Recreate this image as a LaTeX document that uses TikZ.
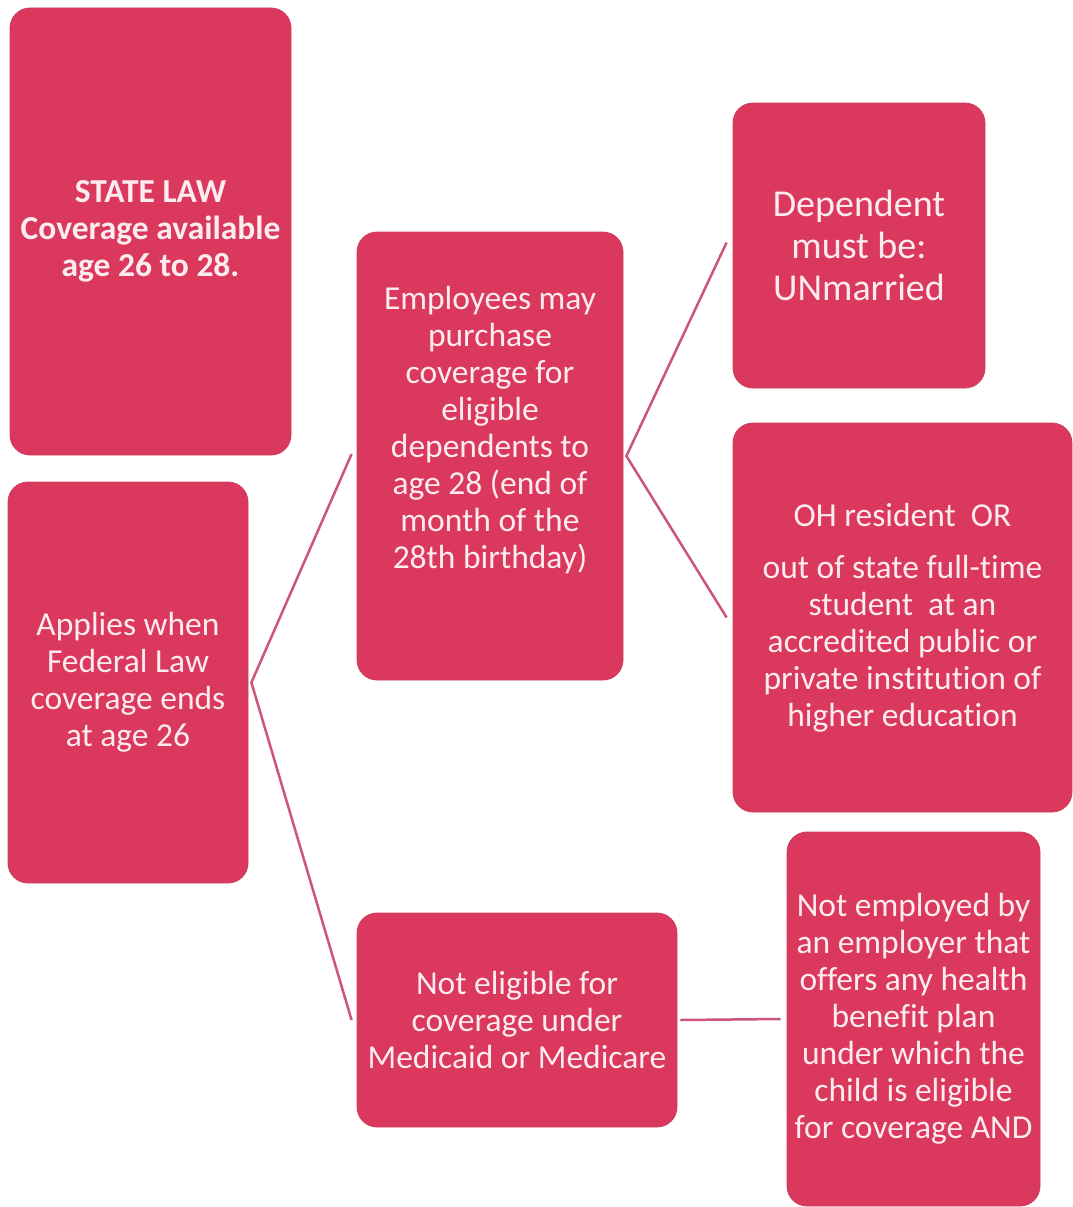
\documentclass[tikz,border=0pt]{standalone}
\usepackage{fontspec}
\setmainfont[Ligatures={NoCommon}]{Carlito}
\definecolor{boxfill}{RGB}{218,56,92}
\definecolor{boxedge}{RGB}{205,60,95}
\definecolor{txt}{RGB}{252,236,240}
\definecolor{linec}{RGB}{205,85,120}
\tikzset{
  box/.style={draw=boxedge, line width=0.8pt, fill=boxfill, rounded corners=20pt,
    text=txt, align=center, inner sep=0pt, font=\fontsize{33.5}{37}\selectfont},
  boxtext/.style={text=txt, align=center, inner sep=0pt, font=\fontsize{33.5}{37}\selectfont},
  conn/.style={draw=linec, line width=2.5pt, line join=miter}
}
\begin{document}
\begin{tikzpicture}[x=1pt,y=-1pt]
\useasboundingbox[fill=white] (0,0) rectangle (1073,1207);
\node[box, minimum width=281pt, minimum height=447pt] (state) at (150.5,231.5)
  {\bfseries STATE LAW\\\bfseries Coverage available\\\bfseries age 26 to 28.};
\node[box, minimum width=240pt, minimum height=401pt] (app) at (128,682.5)
  {Applies when\\Federal Law\\coverage ends\\at age 26};
\node[box, minimum width=266pt, minimum height=448pt] (emp) at (490,456) {};
\node[boxtext] (empT) at (490,430)
  {Employees may\\purchase\\coverage for\\eligible\\dependents to\\age 28 (end of\\month of the\\28th birthday)};
\node[box, minimum width=252pt, minimum height=285pt, font=\fontsize{38}{42}\selectfont] (dep) at (859,245.5)
  {Dependent\\must be:\\UNmarried};
\node[box, minimum width=339pt, minimum height=389pt] (oh) at (902.5,617.5)
  {OH resident~~OR\\[15pt]out of state full-time\\student~~at an\\accredited public or\\private institution of\\higher education};
\node[box, minimum width=320pt, minimum height=214pt] (noel) at (517,1020)
  {Not eligible for\\coverage under\\Medicaid or Medicare};
\node[box, minimum width=253pt, minimum height=374pt] (nemp) at (913.5,1019)
  {Not employed by\\an employer that\\offers any health\\benefit plan\\under which the\\child is eligible\\for coverage AND};
\coordinate (v1) at ([xshift=3pt]app.east);
\coordinate (v2) at ([xshift=3pt]emp.east);
\draw[conn] ([xshift=-5pt,yshift=2pt]emp.west) -- (v1) -- ([xshift=-5pt]noel.west);
\draw[conn] ([xshift=-6pt,yshift=3pt]dep.west) -- (v2) -- ([xshift=-6pt]oh.west);
\draw[conn] ([xshift=3pt]noel.east) -- ([xshift=-6pt]nemp.west);
\end{tikzpicture}
\end{document}
